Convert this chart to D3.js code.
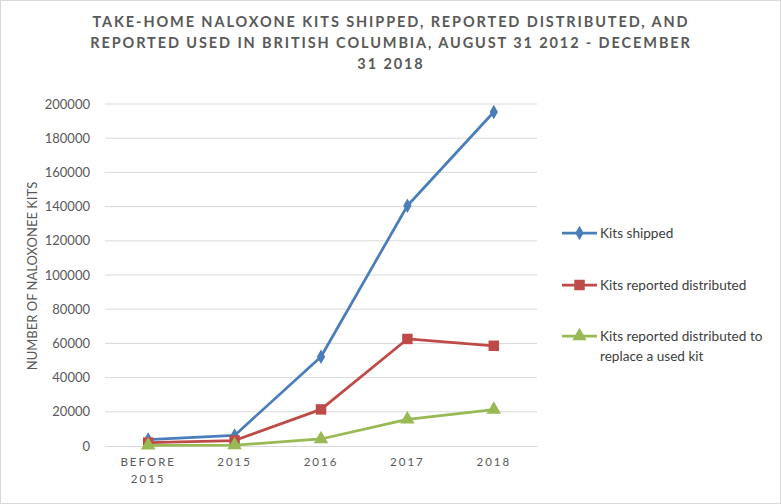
<!DOCTYPE html>
<html>
<head>
<meta charset="utf-8">
<script src="https://cdn.jsdelivr.net/npm/d3@7"></script>
<style>
body { margin: 0; background: #fff; }
svg { font-family: Lato, "Open Sans", sans-serif; }
</style>
</head>
<body>
<script>
let categories = ['BEFORE 2015', '2015', '2016', '2017', '2018']
let shipped = [3800, 6200, 52200, 140500, 195300]
let distributed = [2000, 3200, 21400, 62600, 58600]
let replaced = [400, 500, 4100, 15600, 21300]
let yTicks = [0, 20000, 40000, 60000, 80000, 100000, 120000, 140000, 160000, 180000, 200000]
let seriesNames = ['Kits shipped', 'Kits reported distributed', 'Kits reported distributed to|replace a used kit']

let W = 781, H = 504
let svg = d3.select('body').append('svg').attr('width', W).attr('height', H)

svg.append('rect')
	.attr('x', 0.5).attr('y', 0.5).attr('width', W - 1).attr('height', H - 1)
	.attr('fill', '#fff').attr('stroke', '#d9d9d9')

// title
let titleLines = ['TAKE-HOME NALOXONE KITS SHIPPED, REPORTED DISTRIBUTED, AND',
	'REPORTED USED IN BRITISH COLUMBIA, AUGUST 31 2012 - DECEMBER', '31 2018']
svg.append('g').selectAll('text').data(titleLines).join('text')
	.attr('x', 391).attr('y', (d, i) => 27 + i * 21)
	.attr('text-anchor', 'middle')
	.attr('font-size', 14.5).attr('font-weight', 'bold')
	.attr('letter-spacing', 1.9)
	.attr('fill', '#595959')
	.text(d => d)

let pLeft = 105, pRight = 537, pTop = 104, pBottom = 446
let x = d3.scaleBand().domain(categories).range([pLeft, pRight])
let y = d3.scaleLinear().domain([0, 200000]).range([pBottom, pTop])

// grid
svg.append('g').selectAll('line').data(yTicks.slice(1)).join('line')
	.attr('x1', pLeft).attr('x2', pRight)
	.attr('y1', d => y(d)).attr('y2', d => y(d))
	.attr('stroke', '#d9d9d9').attr('stroke-width', 1)

let yAxis = svg.append('g')
	.attr('transform', `translate(${pLeft},0)`)
	.call(d3.axisLeft(y).tickValues(yTicks).tickSize(0).tickPadding(15).tickFormat(d3.format('d')))
yAxis.select('.domain').remove()
yAxis.selectAll('text').attr('font-size', 13).attr('fill', '#595959').attr('font-family', 'Lato, sans-serif')

let xAxis = svg.append('g')
	.attr('transform', `translate(0,${pBottom})`)
	.call(d3.axisBottom(x).tickSize(0).tickPadding(12))
xAxis.select('.domain').attr('stroke', '#d9d9d9')
xAxis.selectAll('text')
	.attr('font-size', 11.5).attr('fill', '#595959').attr('letter-spacing', 2)
	.attr('font-family', 'Lato, sans-serif')
	.each(function(d) {
		let t = d3.select(this)
		let words = d.split(' ')
		if (words.length > 1) {
			t.text(null)
			words.forEach((w, i) => {
				t.append('tspan').attr('x', 0).attr('dy', i == 0 ? '0.71em' : '1.45em').text(w)
			})
			t.attr('dy', null)
		}
	})

svg.append('text')
	.attr('transform', 'translate(37,276) rotate(-90)')
	.attr('text-anchor', 'middle')
	.attr('font-size', 13).attr('fill', '#595959')
	.text('NUMBER OF NALOXONEE KITS')

let colors = ['#4a7ebb', '#be4b48', '#98b954']
let allSeries = [shipped, distributed, replaced]
let cx = d => x(d) + x.bandwidth() / 2
let line = d3.line().x((d, i) => cx(categories[i])).y(d => y(d))

let diamond = d3.symbol().type(d3.symbolDiamond).size(60)
let square = d3.symbol().type(d3.symbolSquare).size(110)
let triangle = d3.symbol().type(d3.symbolTriangle).size(90)
let shapes = [diamond, square, triangle]

allSeries.forEach((s, k) => {
	let g = svg.append('g')
	g.append('path').datum(s)
		.attr('d', line).attr('fill', 'none')
		.attr('stroke', colors[k]).attr('stroke-width', 2.75)
		.attr('stroke-linejoin', 'round')
	g.selectAll('path.m').data(s).join('path')
		.attr('class', 'm')
		.attr('transform', (d, i) => `translate(${cx(categories[i])},${y(d)})`)
		.attr('d', shapes[k]).attr('fill', colors[k])
})

// legend
let legY = [233, 285, 336]
seriesNames.forEach((name, k) => {
	let g = svg.append('g').attr('transform', `translate(562,${legY[k]})`)
	g.append('line').attr('x1', 0).attr('x2', 35).attr('y1', 0).attr('y2', 0)
		.attr('stroke', colors[k]).attr('stroke-width', 2.75)
	g.append('path').attr('transform', 'translate(17.5,0)').attr('d', shapes[k]).attr('fill', colors[k])
	let t = g.append('text').attr('x', 38).attr('y', 5)
		.attr('font-size', 13.6).attr('fill', '#404040')
	name.split('|').forEach((w, i) => {
		t.append('tspan').attr('x', 38).attr('dy', i == 0 ? 0 : 20).text(w)
	})
})
</script>
</body>
</html>
